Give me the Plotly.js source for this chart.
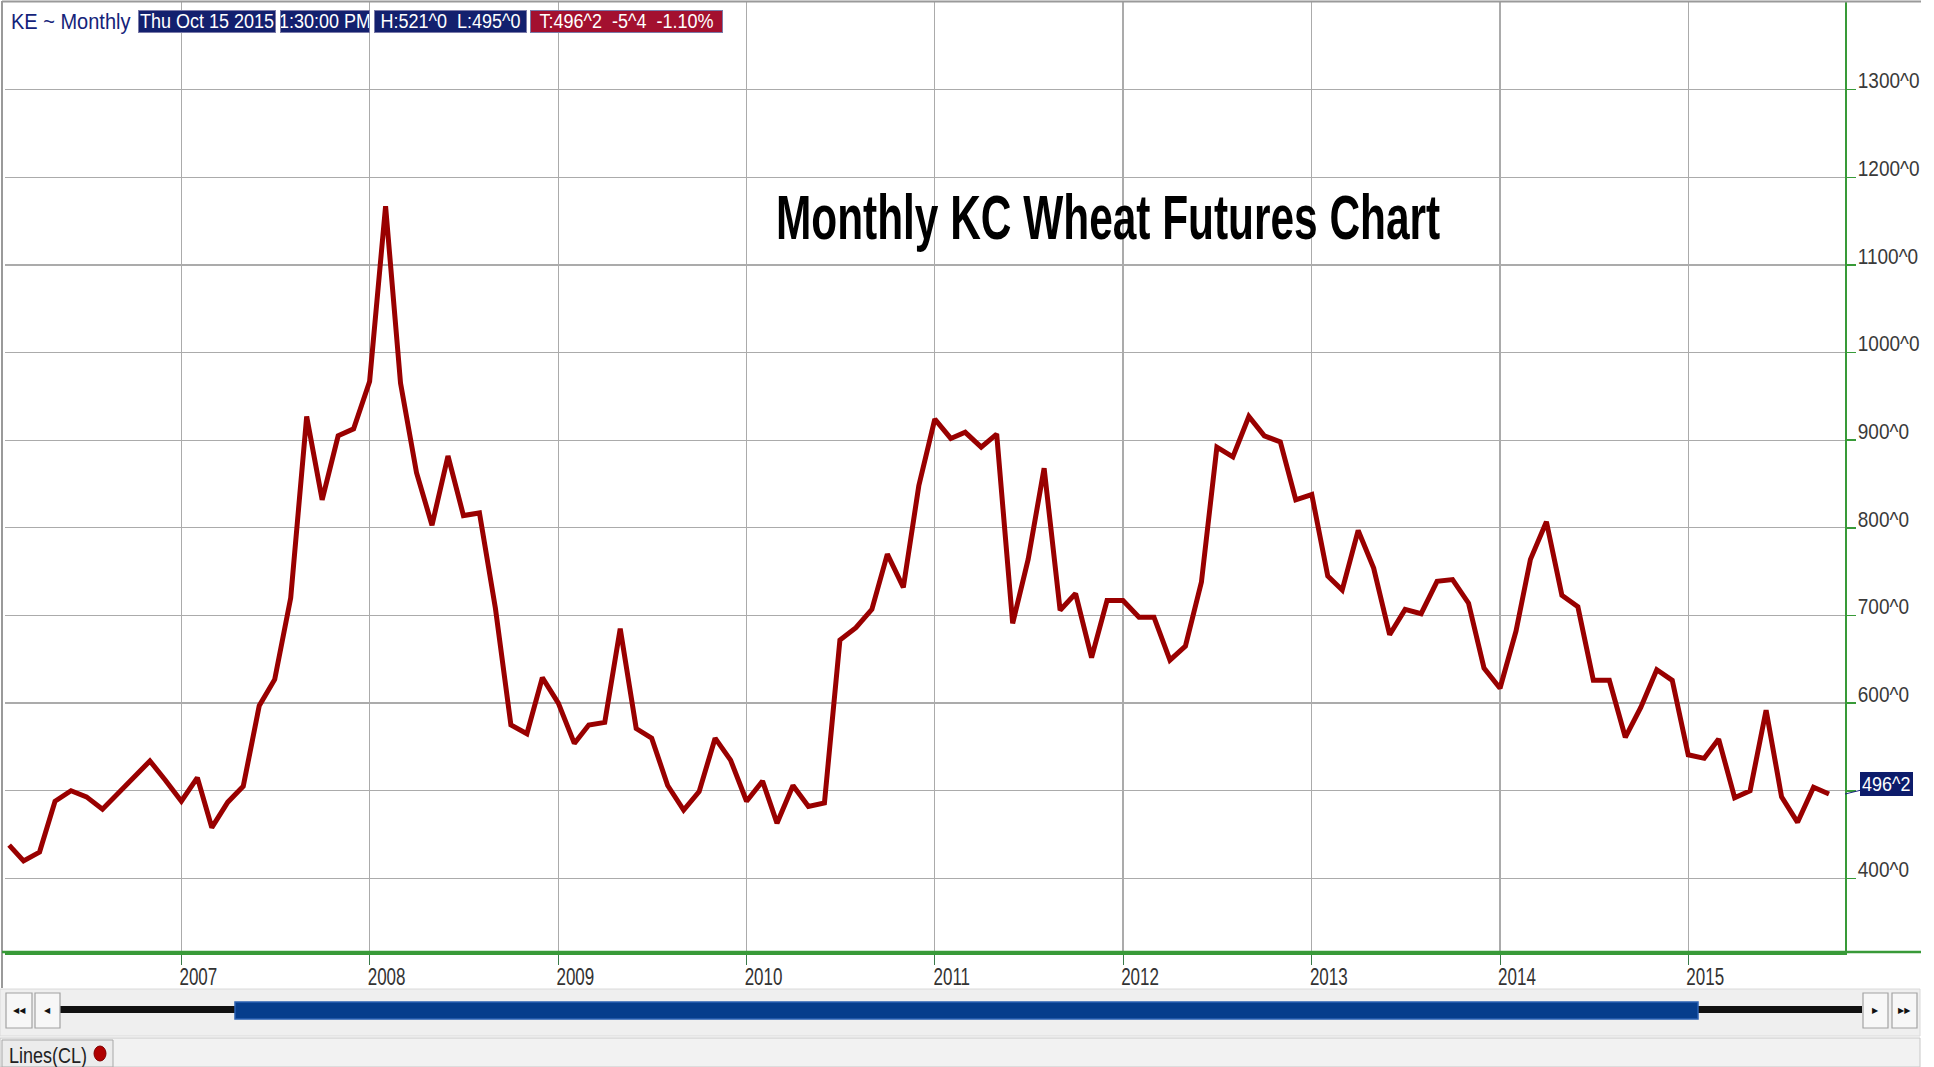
<!DOCTYPE html>
<html><head><meta charset="utf-8">
<script src="https://cdn.plot.ly/plotly-3.0.1.min.js"></script>
<style>
html,body{margin:0;padding:0;background:#fff;overflow:hidden}
#chart{width:1934px;height:1067px}
g.xtick{transform-box:fill-box;transform-origin:center;transform:scaleY(1.45)}
g.ytick{transform-box:fill-box;transform-origin:center;transform:scaleY(1.15)}
</style>
</head><body><div id="chart"></div>
<script>
// Monthly KC wheat closes (cents/bu), Feb 2006 .. Oct 2015
const firstYear = 2006, firstMonth = 2;
const close2006 = [438, 420, 430, 488, 500, 493, 479, 498, 516, 534, 512];
const close2007 = [488, 515, 458, 487, 505, 597, 627, 720, 927, 832, 905, 913];
const close2008 = [967, 1167, 965, 863, 803, 882, 814, 817, 708, 575, 565, 629];
const close2009 = [600, 554, 575, 578, 685, 571, 560, 506, 478, 499, 560, 535];
const close2010 = [488, 511, 463, 506, 482, 486, 672, 686, 707, 770, 732, 848];
const close2011 = [924, 902, 909, 892, 907, 691, 764, 868, 706, 725, 652, 717];
const close2012 = [717, 698, 698, 649, 665, 738, 892, 881, 927, 905, 898, 832];
const close2013 = [838, 745, 729, 797, 754, 678, 707, 702, 739, 741, 714, 640];
const close2014 = [617, 682, 764, 807, 723, 710, 626, 626, 561, 595, 638, 626];
const close2015 = [541, 537, 559, 492, 500, 592, 493, 464, 504, 496.25];
const yearTicks = ['2007','2008','2009','2010','2011','2012','2013','2014','2015'];
const priceTicks = [400, 500, 600, 700, 800, 900, 1000, 1100, 1200, 1300];
// the 500 label is hidden behind the last-price tag in the original
const priceTickText = ['400^0','','600^0','700^0','800^0','900^0','1000^0','1100^0','1200^0','1300^0'];
const lastPrice = 496.25, lastPriceText = '496^2';
const headerSymbol = 'KE ~ Monthly';
const headerBoxes = ['Thu Oct 15 2015', '1:30:00 PM', 'H:521^0\u00a0\u00a0L:495^0', 'T:496^2\u00a0\u00a0-5^4\u00a0\u00a0-1.10%'];
const chartTitle = 'Monthly KC Wheat Futures Chart';
const studyTab = 'Lines(CL)';

const byYear = [close2006, close2007, close2008, close2009, close2010, close2011, close2012, close2013, close2014, close2015];
const xs = [], ys = [];
byYear.forEach((arr, k) => {
  const yr = firstYear + k;
  const m0 = k === 0 ? firstMonth : 1;
  arr.forEach((v, i) => {
    const m = m0 + i;
    xs.push(yr + '-' + String(m).padStart(2, '0') + '-01');
    ys.push(v);
  });
});

const W = 1934, H = 1067, L = 5, R = 1845, T = 2, B = 952;
const px = x => (x - L) / (R - L);
const py = y => (B - y) / (B - T);
const GREEN = '#389a38';
const SANS = '"Liberation Sans", Arial, sans-serif';

const shapes = [];
const ann = [];
const cssRules = [];
function scaleAnn(idx, s) {
  cssRules.push('g.annotation[data-index="' + idx + '"] text.annotation-text{transform-box:fill-box;transform-origin:center;transform:scaleY(' + s + ')}');
}
function rect(x0, y0, x1, y1, fill, line, lw) {
  shapes.push({type: 'rect', xref: 'paper', yref: 'paper', x0: px(x0), x1: px(x1), y0: py(y0), y1: py(y1),
    fillcolor: fill, line: {color: line || fill, width: lw === undefined ? 1 : lw}, layer: 'above'});
}
function line(x0, y0, x1, y1, color, w) {
  shapes.push({type: 'line', xref: 'paper', yref: 'paper', x0: px(x0), x1: px(x1), y0: py(y0), y1: py(y1),
    line: {color: color, width: w}, layer: 'above'});
}
// frame
line(2, 1.5, 1921, 1.5, '#9a9a9a', 2);
line(2, 1, 2, 988, '#9a9a9a', 2);
line(2, 952, 1921, 952, GREEN, 2.5);
// scrollbar area
rect(0, 989, 1920, 1036, '#efefef', '#dadada', 1);
rect(60, 1006, 1862, 1013, '#111111', '#111111', 0);
rect(235, 1002, 1698, 1019, '#063d8c', '#2a60b2', 1.5);
[[6, 32, '◀◀'], [35, 60, '◀'], [1863, 1888, '▶'], [1892, 1917, '▶▶']].forEach(b => {
  rect(b[0], 993, b[1], 1028, '#f7f7f7', '#a2a2a2', 1.2);
  ann.push({xref: 'paper', yref: 'paper', x: px((b[0] + b[1]) / 2), y: py(1010.5), text: b[2], showarrow: false,
    xanchor: 'center', yanchor: 'middle', font: {family: 'DejaVu Sans', size: 8, color: '#111'}});
});
// bottom study panel
rect(0, 1038, 1920, 1067, '#f2f2f2', '#c8c8c8', 1);
rect(2, 1040, 113, 1067, '#ececec', '#a8a8a8', 1);
ann.push({xref: 'paper', yref: 'paper', x: px(7), y: py(1055), text: studyTab, showarrow: false,
  xanchor: 'left', yanchor: 'middle', font: {family: SANS, size: 18, color: '#222'}});
scaleAnn(ann.length - 1, 1.25);
shapes.push({type: 'circle', xref: 'paper', yref: 'paper', layer: 'above', fillcolor: '#b00000', line: {color: '#800000', width: 1},
  x0: px(94), x1: px(106), y0: py(1046), y1: py(1061)});

// header
ann.push({xref: 'paper', yref: 'paper', x: px(9), y: py(21), text: headerSymbol, showarrow: false,
  xanchor: 'left', yanchor: 'middle', font: {family: SANS, size: 20, color: '#14237a'}});
scaleAnn(ann.length - 1, 1.12);
const boxPos = [[138, 276, '#13206e'], [280, 370, '#13206e'], [374, 527, '#13206e'], [530, 723, '#a3102f']];
headerBoxes.forEach((t, i) => {
  const b = boxPos[i];
  ann.push({xref: 'paper', yref: 'paper', x: px((b[0] + b[1]) / 2), y: py(21), text: t, showarrow: false,
    xanchor: 'center', yanchor: 'middle', width: b[1] - b[0] - 2, height: 21, borderpad: 0, borderwidth: 1,
    bgcolor: b[2], bordercolor: '#7a7aa8', font: {family: SANS, size: 18, color: '#ffffff'}});
  scaleAnn(ann.length - 1, 1.1);
});
// title
ann.push({xref: 'paper', yref: 'paper', x: px(1108), y: py(217.5), text: '<b>' + chartTitle + '</b>', showarrow: false,
  xanchor: 'center', yanchor: 'middle', font: {family: SANS, size: 42.4, color: '#000000'}});
scaleAnn(ann.length - 1, 1.48);
// last price tag
ann.push({xref: 'paper', yref: 'y', x: 1, y: lastPrice, text: lastPriceText, showarrow: true, arrowhead: 0,
  arrowcolor: '#1a237e', arrowwidth: 1, ax: 41, ay: -10, bgcolor: '#0d1c6b', bordercolor: '#0d1c6b', borderpad: 1,
  font: {family: SANS, size: 18, color: '#ffffff'}});
scaleAnn(ann.length - 1, 1.12);

const st = document.createElement('style');
st.textContent = cssRules.join('\n');
document.head.appendChild(st);

const trace = {x: xs, y: ys, type: 'scatter', mode: 'lines', line: {color: '#990000', width: 5}, hoverinfo: 'skip'};

const layout = {
  width: W, height: H,
  margin: {l: L, r: W - R, t: T, b: H - B},
  paper_bgcolor: '#ffffff', plot_bgcolor: '#ffffff',
  showlegend: false,
  xaxis: {type: 'date', range: ['2006-01-24', '2015-11-01'],
    tickvals: yearTicks.map(y => y + '-01-01'), ticktext: yearTicks,
    showgrid: true, gridcolor: '#ababab', gridwidth: 1.3,
    showline: true, linecolor: GREEN, linewidth: 2.5,
    ticks: 'outside', ticklen: 10, tickcolor: '#3a7a4a', tickwidth: 1,
    ticklabelshift: 17, ticklabelstandoff: -3,
    tickfont: {family: SANS, size: 17, color: '#333333'}, zeroline: false, fixedrange: true},
  yaxis: {side: 'right', range: [316, 1400],
    tickvals: priceTicks, ticktext: priceTickText,
    showgrid: true, gridcolor: '#ababab', gridwidth: 1.3,
    showline: true, linecolor: GREEN, linewidth: 2,
    ticks: 'outside', ticklen: 9, tickcolor: GREEN, tickwidth: 1.5,
    ticklabelshift: -9, ticklabelstandoff: -2,
    tickfont: {family: SANS, size: 19, color: '#3a3a3a'}, zeroline: false, fixedrange: true},
  shapes: shapes,
  annotations: ann
};
Plotly.newPlot('chart', [trace], layout, {staticPlot: true, displayModeBar: false});
</script></body></html>
